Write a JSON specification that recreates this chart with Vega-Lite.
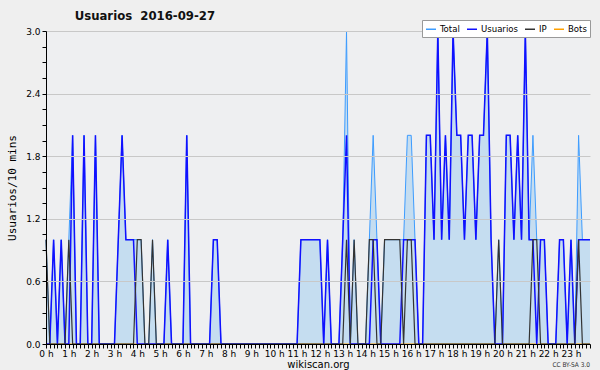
{
  "$schema": "https://vega.github.io/schema/vega-lite/v6.json",
  "width": 544,
  "height": 313,
  "autosize": {"type": "none"},
  "padding": {"left": 46, "top": 31, "right": 10, "bottom": 26},
  "background": "#efefef",
  "config": {"view": {"fill": "#eeeff1", "stroke": null}, "font": "DejaVu Sans", "axis": {"labelOverlap": false}},
  "title": {"text": "Usuarios\u00a0\u00a02016-09-27", "anchor": "start", "dx": 68, "offset": -3, "fontSize": 13, "font": "DejaVu Sans Condensed", "fontWeight": "bold", "color": "#111111"},
  "data": {"values": [
    {"min":0,"Total":1,"Usuarios":0,"IP":1,"Bots":0},
    {"min":10,"Total":0,"Usuarios":0,"IP":0,"Bots":0},
    {"min":20,"Total":1,"Usuarios":1,"IP":0,"Bots":0},
    {"min":30,"Total":0,"Usuarios":0,"IP":0,"Bots":0},
    {"min":40,"Total":1,"Usuarios":1,"IP":0,"Bots":0},
    {"min":50,"Total":0,"Usuarios":0,"IP":0,"Bots":0},
    {"min":60,"Total":1,"Usuarios":0,"IP":1,"Bots":0},
    {"min":70,"Total":2,"Usuarios":2,"IP":0,"Bots":0},
    {"min":80,"Total":0,"Usuarios":0,"IP":0,"Bots":0},
    {"min":90,"Total":0,"Usuarios":0,"IP":0,"Bots":0},
    {"min":100,"Total":2,"Usuarios":2,"IP":0,"Bots":0},
    {"min":110,"Total":0,"Usuarios":0,"IP":0,"Bots":0},
    {"min":120,"Total":0,"Usuarios":0,"IP":0,"Bots":0},
    {"min":130,"Total":2,"Usuarios":2,"IP":0,"Bots":0},
    {"min":140,"Total":0,"Usuarios":0,"IP":0,"Bots":0},
    {"min":150,"Total":0,"Usuarios":0,"IP":0,"Bots":0},
    {"min":160,"Total":0,"Usuarios":0,"IP":0,"Bots":0},
    {"min":170,"Total":0,"Usuarios":0,"IP":0,"Bots":0},
    {"min":180,"Total":0,"Usuarios":0,"IP":0,"Bots":0},
    {"min":190,"Total":1,"Usuarios":1,"IP":0,"Bots":0},
    {"min":200,"Total":2,"Usuarios":2,"IP":0,"Bots":0},
    {"min":210,"Total":1,"Usuarios":1,"IP":0,"Bots":0},
    {"min":220,"Total":1,"Usuarios":1,"IP":0,"Bots":0},
    {"min":230,"Total":1,"Usuarios":1,"IP":0,"Bots":0},
    {"min":240,"Total":1,"Usuarios":0,"IP":1,"Bots":0},
    {"min":250,"Total":1,"Usuarios":0,"IP":1,"Bots":0},
    {"min":260,"Total":0,"Usuarios":0,"IP":0,"Bots":0},
    {"min":270,"Total":0,"Usuarios":0,"IP":0,"Bots":0},
    {"min":280,"Total":1,"Usuarios":0,"IP":1,"Bots":0},
    {"min":290,"Total":0,"Usuarios":0,"IP":0,"Bots":0},
    {"min":300,"Total":0,"Usuarios":0,"IP":0,"Bots":0},
    {"min":310,"Total":0,"Usuarios":0,"IP":0,"Bots":0},
    {"min":320,"Total":1,"Usuarios":1,"IP":0,"Bots":0},
    {"min":330,"Total":0,"Usuarios":0,"IP":0,"Bots":0},
    {"min":340,"Total":0,"Usuarios":0,"IP":0,"Bots":0},
    {"min":350,"Total":0,"Usuarios":0,"IP":0,"Bots":0},
    {"min":360,"Total":0,"Usuarios":0,"IP":0,"Bots":0},
    {"min":370,"Total":2,"Usuarios":2,"IP":0,"Bots":0},
    {"min":380,"Total":0,"Usuarios":0,"IP":0,"Bots":0},
    {"min":390,"Total":0,"Usuarios":0,"IP":0,"Bots":0},
    {"min":400,"Total":0,"Usuarios":0,"IP":0,"Bots":0},
    {"min":410,"Total":0,"Usuarios":0,"IP":0,"Bots":0},
    {"min":420,"Total":0,"Usuarios":0,"IP":0,"Bots":0},
    {"min":430,"Total":0,"Usuarios":0,"IP":0,"Bots":0},
    {"min":440,"Total":1,"Usuarios":1,"IP":0,"Bots":0},
    {"min":450,"Total":1,"Usuarios":1,"IP":0,"Bots":0},
    {"min":460,"Total":0,"Usuarios":0,"IP":0,"Bots":0},
    {"min":470,"Total":0,"Usuarios":0,"IP":0,"Bots":0},
    {"min":480,"Total":0,"Usuarios":0,"IP":0,"Bots":0},
    {"min":490,"Total":0,"Usuarios":0,"IP":0,"Bots":0},
    {"min":500,"Total":0,"Usuarios":0,"IP":0,"Bots":0},
    {"min":510,"Total":0,"Usuarios":0,"IP":0,"Bots":0},
    {"min":520,"Total":0,"Usuarios":0,"IP":0,"Bots":0},
    {"min":530,"Total":0,"Usuarios":0,"IP":0,"Bots":0},
    {"min":540,"Total":0,"Usuarios":0,"IP":0,"Bots":0},
    {"min":550,"Total":0,"Usuarios":0,"IP":0,"Bots":0},
    {"min":560,"Total":0,"Usuarios":0,"IP":0,"Bots":0},
    {"min":570,"Total":0,"Usuarios":0,"IP":0,"Bots":0},
    {"min":580,"Total":0,"Usuarios":0,"IP":0,"Bots":0},
    {"min":590,"Total":0,"Usuarios":0,"IP":0,"Bots":0},
    {"min":600,"Total":0,"Usuarios":0,"IP":0,"Bots":0},
    {"min":610,"Total":0,"Usuarios":0,"IP":0,"Bots":0},
    {"min":620,"Total":0,"Usuarios":0,"IP":0,"Bots":0},
    {"min":630,"Total":0,"Usuarios":0,"IP":0,"Bots":0},
    {"min":640,"Total":0,"Usuarios":0,"IP":0,"Bots":0},
    {"min":650,"Total":0,"Usuarios":0,"IP":0,"Bots":0},
    {"min":660,"Total":0,"Usuarios":0,"IP":0,"Bots":0},
    {"min":670,"Total":1,"Usuarios":1,"IP":0,"Bots":0},
    {"min":680,"Total":1,"Usuarios":1,"IP":0,"Bots":0},
    {"min":690,"Total":1,"Usuarios":1,"IP":0,"Bots":0},
    {"min":700,"Total":1,"Usuarios":1,"IP":0,"Bots":0},
    {"min":710,"Total":1,"Usuarios":1,"IP":0,"Bots":0},
    {"min":720,"Total":1,"Usuarios":1,"IP":0,"Bots":0},
    {"min":730,"Total":0,"Usuarios":0,"IP":0,"Bots":0},
    {"min":740,"Total":1,"Usuarios":1,"IP":0,"Bots":0},
    {"min":750,"Total":0,"Usuarios":0,"IP":0,"Bots":0},
    {"min":760,"Total":0,"Usuarios":0,"IP":0,"Bots":0},
    {"min":770,"Total":0,"Usuarios":0,"IP":0,"Bots":0},
    {"min":780,"Total":1,"Usuarios":1,"IP":0,"Bots":0},
    {"min":790,"Total":3,"Usuarios":2,"IP":1,"Bots":0},
    {"min":800,"Total":0,"Usuarios":0,"IP":0,"Bots":0},
    {"min":810,"Total":1,"Usuarios":0,"IP":1,"Bots":0},
    {"min":820,"Total":0,"Usuarios":0,"IP":0,"Bots":0},
    {"min":830,"Total":0,"Usuarios":0,"IP":0,"Bots":0},
    {"min":840,"Total":0,"Usuarios":0,"IP":0,"Bots":0},
    {"min":850,"Total":1,"Usuarios":0,"IP":1,"Bots":0},
    {"min":860,"Total":2,"Usuarios":1,"IP":1,"Bots":0},
    {"min":870,"Total":1,"Usuarios":1,"IP":0,"Bots":0},
    {"min":880,"Total":0,"Usuarios":0,"IP":0,"Bots":0},
    {"min":890,"Total":1,"Usuarios":0,"IP":1,"Bots":0},
    {"min":900,"Total":1,"Usuarios":0,"IP":1,"Bots":0},
    {"min":910,"Total":1,"Usuarios":0,"IP":1,"Bots":0},
    {"min":920,"Total":1,"Usuarios":0,"IP":1,"Bots":0},
    {"min":930,"Total":1,"Usuarios":0,"IP":1,"Bots":0},
    {"min":940,"Total":1,"Usuarios":1,"IP":0,"Bots":0},
    {"min":950,"Total":2,"Usuarios":1,"IP":1,"Bots":0},
    {"min":960,"Total":2,"Usuarios":1,"IP":1,"Bots":0},
    {"min":970,"Total":1,"Usuarios":1,"IP":0,"Bots":0},
    {"min":980,"Total":0,"Usuarios":0,"IP":0,"Bots":0},
    {"min":990,"Total":0,"Usuarios":0,"IP":0,"Bots":0},
    {"min":1000,"Total":2,"Usuarios":2,"IP":0,"Bots":0},
    {"min":1010,"Total":2,"Usuarios":2,"IP":0,"Bots":0},
    {"min":1020,"Total":1,"Usuarios":1,"IP":0,"Bots":0},
    {"min":1030,"Total":3,"Usuarios":3,"IP":0,"Bots":0},
    {"min":1040,"Total":1,"Usuarios":1,"IP":0,"Bots":0},
    {"min":1050,"Total":2,"Usuarios":2,"IP":0,"Bots":0},
    {"min":1060,"Total":1,"Usuarios":1,"IP":0,"Bots":0},
    {"min":1070,"Total":3,"Usuarios":3,"IP":0,"Bots":0},
    {"min":1080,"Total":2,"Usuarios":2,"IP":0,"Bots":0},
    {"min":1090,"Total":2,"Usuarios":2,"IP":0,"Bots":0},
    {"min":1100,"Total":1,"Usuarios":1,"IP":0,"Bots":0},
    {"min":1110,"Total":2,"Usuarios":2,"IP":0,"Bots":0},
    {"min":1120,"Total":2,"Usuarios":2,"IP":0,"Bots":0},
    {"min":1130,"Total":1,"Usuarios":1,"IP":0,"Bots":0},
    {"min":1140,"Total":2,"Usuarios":2,"IP":0,"Bots":0},
    {"min":1150,"Total":2,"Usuarios":2,"IP":0,"Bots":0},
    {"min":1160,"Total":3,"Usuarios":3,"IP":0,"Bots":0},
    {"min":1170,"Total":1,"Usuarios":1,"IP":0,"Bots":0},
    {"min":1180,"Total":0,"Usuarios":0,"IP":0,"Bots":0},
    {"min":1190,"Total":1,"Usuarios":0,"IP":1,"Bots":0},
    {"min":1200,"Total":0,"Usuarios":0,"IP":0,"Bots":0},
    {"min":1210,"Total":2,"Usuarios":2,"IP":0,"Bots":0},
    {"min":1220,"Total":2,"Usuarios":2,"IP":0,"Bots":0},
    {"min":1230,"Total":1,"Usuarios":1,"IP":0,"Bots":0},
    {"min":1240,"Total":2,"Usuarios":2,"IP":0,"Bots":0},
    {"min":1250,"Total":1,"Usuarios":1,"IP":0,"Bots":0},
    {"min":1260,"Total":3,"Usuarios":3,"IP":0,"Bots":0},
    {"min":1270,"Total":1,"Usuarios":1,"IP":0,"Bots":0},
    {"min":1280,"Total":2,"Usuarios":1,"IP":1,"Bots":0},
    {"min":1290,"Total":1,"Usuarios":0,"IP":1,"Bots":0},
    {"min":1300,"Total":1,"Usuarios":1,"IP":0,"Bots":0},
    {"min":1310,"Total":1,"Usuarios":1,"IP":0,"Bots":0},
    {"min":1320,"Total":0,"Usuarios":0,"IP":0,"Bots":0},
    {"min":1330,"Total":0,"Usuarios":0,"IP":0,"Bots":0},
    {"min":1340,"Total":0,"Usuarios":0,"IP":0,"Bots":0},
    {"min":1350,"Total":1,"Usuarios":1,"IP":0,"Bots":0},
    {"min":1360,"Total":1,"Usuarios":1,"IP":0,"Bots":0},
    {"min":1370,"Total":0,"Usuarios":0,"IP":0,"Bots":0},
    {"min":1380,"Total":1,"Usuarios":1,"IP":0,"Bots":0},
    {"min":1390,"Total":0,"Usuarios":0,"IP":0,"Bots":0},
    {"min":1400,"Total":2,"Usuarios":1,"IP":1,"Bots":0},
    {"min":1410,"Total":1,"Usuarios":1,"IP":0,"Bots":0},
    {"min":1420,"Total":1,"Usuarios":1,"IP":0,"Bots":0},
    {"min":1430,"Total":1,"Usuarios":1,"IP":0,"Bots":0}
  ]},
  "layer": [
    {
      "mark": {"type": "area", "color": "#c5ddf0", "opacity": 1},
      "encoding": {
        "x": {"field": "min", "type": "quantitative", "title": "wikiscan.org",
          "scale": {"domain": [0, 1430], "nice": false, "zero": false},
          "axis": {
            "values": [0,10,20,30,40,50,60,70,80,90,100,110,120,130,140,150,160,170,180,190,200,210,220,230,240,250,260,270,280,290,300,310,320,330,340,350,360,370,380,390,400,410,420,430,440,450,460,470,480,490,500,510,520,530,540,550,560,570,580,590,600,610,620,630,640,650,660,670,680,690,700,710,720,730,740,750,760,770,780,790,800,810,820,830,840,850,860,870,880,890,900,910,920,930,940,950,960,970,980,990,1000,1010,1020,1030,1040,1050,1060,1070,1080,1090,1100,1110,1120,1130,1140,1150,1160,1170,1180,1190,1200,1210,1220,1230,1240,1250,1260,1270,1280,1290,1300,1310,1320,1330,1340,1350,1360,1370,1380,1390,1400,1410,1420,1430],
            "tickCount": 500,
            "labelExpr": "datum.value % 60 == 0 ? (datum.value / 60) + ' h' : ''",
            "grid": false, "tickSize": 4, "tickColor": "#000000", "domainColor": "#000000",
            "labelFontSize": 9, "labelColor": "#000000", "labelPadding": 1, "labelDx": -2,
            "labelOverlap": false, "labelFlush": false, "labelAngle": 0, "labelBound": false,
            "titleFontSize": 10, "titleFontWeight": "normal", "titleColor": "#000000", "titlePadding": 1,
            "zindex": 1
          }
        },
        "y": {"field": "Total", "type": "quantitative", "title": "Usuarios/10 mins",
          "scale": {"domain": [0, 3], "nice": false},
          "axis": {
            "values": [0,0.15,0.3,0.45,0.6,0.75,0.9,1.05,1.2,1.35,1.5,1.65,1.8,1.95,2.1,2.25,2.4,2.55,2.7,2.85,3.0],
            "tickCount": 100,
            "labelExpr": "round(datum.value * 100) % 60 == 0 ? format(datum.value, '.1f') : ''",
            "grid": true, "gridColor": "#c8c8c8",
            "gridOpacity": {"condition": {"test": "round(datum.value * 100) % 60 == 0", "value": 1}, "value": 0},
            "tickSize": 4, "tickColor": "#000000", "domainColor": "#000000",
            "labelFontSize": 9, "labelColor": "#000000", "labelPadding": 2,
            "labelOverlap": false, "labelFlush": false,
            "titleFont": "DejaVu Sans Mono", "titleFontSize": 11, "titleFontWeight": "normal", "titleColor": "#000000", "titlePadding": 8,
            "zindex": 1
          }
        }
      }
    },
    {
      "mark": {"type": "line", "strokeWidth": 1.2},
      "encoding": {
        "x": {"field": "min", "type": "quantitative", "title": "wikiscan.org"},
        "y": {"field": "Bots", "type": "quantitative", "title": "Usuarios/10 mins"},
        "color": {"datum": "Bots",
          "scale": {"domain": ["Total", "Usuarios", "IP", "Bots"], "range": ["#3d9cff", "#1010ff", "#333333", "#ffa000"]},
          "legend": {"orient": "none", "legendX": 376, "legendY": -11, "direction": "horizontal", "title": null,
            "fillColor": "#ffffff", "strokeColor": "#999999", "padding": 3,
            "symbolType": "stroke", "symbolSize": 100, "symbolStrokeWidth": 1.5,
            "labelFont": "DejaVu Sans Condensed", "labelFontSize": 9.5, "labelColor": "#000000",
            "labelOffset": 3, "columnPadding": 4, "zindex": 2}
        }
      }
    },
    {
      "mark": {"type": "line", "strokeWidth": 1},
      "encoding": {
        "x": {"field": "min", "type": "quantitative", "title": "wikiscan.org"},
        "y": {"field": "Total", "type": "quantitative", "title": "Usuarios/10 mins"},
        "color": {"datum": "Total"}
      }
    },
    {
      "mark": {"type": "line", "strokeWidth": 1.5},
      "encoding": {
        "x": {"field": "min", "type": "quantitative", "title": "wikiscan.org"},
        "y": {"field": "Usuarios", "type": "quantitative", "title": "Usuarios/10 mins"},
        "color": {"datum": "Usuarios"}
      }
    },
    {
      "mark": {"type": "line", "strokeWidth": 1.2},
      "encoding": {
        "x": {"field": "min", "type": "quantitative", "title": "wikiscan.org"},
        "y": {"field": "IP", "type": "quantitative", "title": "Usuarios/10 mins"},
        "color": {"datum": "IP"}
      }
    },
    {
      "data": {"values": [{"txt": "CC BY-SA 3.0"}]},
      "mark": {"type": "text", "align": "right", "baseline": "middle", "dy": 21, "fontSize": 6.5, "font": "DejaVu Sans Condensed", "color": "#333333"},
      "encoding": {
        "x": {"datum": 1430},
        "y": {"datum": 0},
        "text": {"field": "txt"}
      }
    }
  ]
}
